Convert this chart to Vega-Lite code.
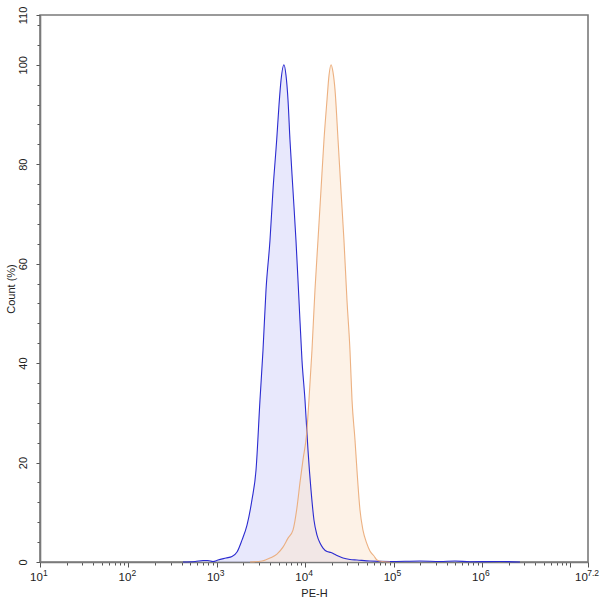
{
  "$schema": "https://vega.github.io/schema/vega-lite/v6.json",
  "width": 548,
  "height": 547,
  "autosize": {"type": "none"},
  "padding": {"left": 40, "top": 15, "right": 12, "bottom": 40},
  "background": "white",
  "config": {
    "view": {"stroke": "#7a7a7a", "strokeWidth": 1.6},
    "font": "Liberation Sans",
    "axis": {"domainColor": "#7a7a7a", "domainWidth": 1.6, "tickColor": "#555555", "labelColor": "#222222", "titleColor": "#222222", "labelFontSize": 11, "titleFontSize": 11, "titleFontWeight": "normal", "grid": false}
  },
  "data": {"values": [
    {"series": "A", "pe": 415, "count": 0},
    {"series": "A", "pe": 568, "count": 0.1},
    {"series": "A", "pe": 698, "count": 0.3},
    {"series": "A", "pe": 794, "count": 0.3},
    {"series": "A", "pe": 906, "count": 0.1},
    {"series": "A", "pe": 1033, "count": 0.4},
    {"series": "A", "pe": 1271, "count": 0.8},
    {"series": "A", "pe": 1486, "count": 1.1},
    {"series": "A", "pe": 1694, "count": 2.0},
    {"series": "A", "pe": 1928, "count": 4.4},
    {"series": "A", "pe": 2198, "count": 7.4},
    {"series": "A", "pe": 2500, "count": 12.5},
    {"series": "A", "pe": 2780, "count": 18.5},
    {"series": "A", "pe": 3083, "count": 32.6},
    {"series": "A", "pe": 3334, "count": 42.6},
    {"series": "A", "pe": 3606, "count": 54.7},
    {"series": "A", "pe": 4000, "count": 64.7},
    {"series": "A", "pe": 4325, "count": 74.8},
    {"series": "A", "pe": 4764, "count": 84.9},
    {"series": "A", "pe": 5058, "count": 91.9},
    {"series": "A", "pe": 5333, "count": 96.9},
    {"series": "A", "pe": 5754, "count": 100},
    {"series": "A", "pe": 6067, "count": 97.9},
    {"series": "A", "pe": 6397, "count": 92.9},
    {"series": "A", "pe": 6730, "count": 84.9},
    {"series": "A", "pe": 7278, "count": 74.8},
    {"series": "A", "pe": 7870, "count": 64.7},
    {"series": "A", "pe": 8511, "count": 52.7},
    {"series": "A", "pe": 9204, "count": 40.6},
    {"series": "A", "pe": 9954, "count": 32.6},
    {"series": "A", "pe": 10765, "count": 22.5},
    {"series": "A", "pe": 11641, "count": 14.5},
    {"series": "A", "pe": 12589, "count": 8.4},
    {"series": "A", "pe": 13614, "count": 5.4},
    {"series": "A", "pe": 14723, "count": 3.8},
    {"series": "A", "pe": 15922, "count": 2.8},
    {"series": "A", "pe": 17660, "count": 2.1},
    {"series": "A", "pe": 19588, "count": 1.9},
    {"series": "A", "pe": 22336, "count": 1.4},
    {"series": "A", "pe": 26792, "count": 0.8},
    {"series": "A", "pe": 32137, "count": 0.5},
    {"series": "A", "pe": 38548, "count": 0.4},
    {"series": "A", "pe": 54075, "count": 0.2},
    {"series": "A", "pe": 91201, "count": 0.1},
    {"series": "A", "pe": 199067, "count": 0.2},
    {"series": "A", "pe": 334965, "count": 0.1},
    {"series": "A", "pe": 495450, "count": 0.2},
    {"series": "A", "pe": 732825, "count": 0.05},
    {"series": "A", "pe": 1599558, "count": 0.1},
    {"series": "A", "pe": 2691535, "count": 0},
    {"series": "B", "pe": 2377, "count": 0},
    {"series": "B", "pe": 3251, "count": 0.2},
    {"series": "B", "pe": 4000, "count": 0.8},
    {"series": "B", "pe": 4797, "count": 1.6},
    {"series": "B", "pe": 5610, "count": 3.0},
    {"series": "B", "pe": 6397, "count": 4.8},
    {"series": "B", "pe": 7278, "count": 6.4},
    {"series": "B", "pe": 8072, "count": 10.9},
    {"series": "B", "pe": 8730, "count": 15.9},
    {"series": "B", "pe": 9441, "count": 20.5},
    {"series": "B", "pe": 10399, "count": 25.9},
    {"series": "B", "pe": 11041, "count": 32.6},
    {"series": "B", "pe": 11940, "count": 42.6},
    {"series": "B", "pe": 12912, "count": 54.7},
    {"series": "B", "pe": 13964, "count": 64.7},
    {"series": "B", "pe": 15101, "count": 74.8},
    {"series": "B", "pe": 16331, "count": 84.9},
    {"series": "B", "pe": 17660, "count": 92.9},
    {"series": "B", "pe": 18621, "count": 97.9},
    {"series": "B", "pe": 19634, "count": 100},
    {"series": "B", "pe": 20654, "count": 98.5},
    {"series": "B", "pe": 21777, "count": 94.9},
    {"series": "B", "pe": 23550, "count": 84.9},
    {"series": "B", "pe": 25410, "count": 74.8},
    {"series": "B", "pe": 27479, "count": 64.7},
    {"series": "B", "pe": 29717, "count": 52.7},
    {"series": "B", "pe": 32137, "count": 42.6},
    {"series": "B", "pe": 33884, "count": 32.6},
    {"series": "B", "pe": 36644, "count": 24.5},
    {"series": "B", "pe": 38548, "count": 18.5},
    {"series": "B", "pe": 41687, "count": 10.5},
    {"series": "B", "pe": 45082, "count": 6.4},
    {"series": "B", "pe": 49659, "count": 3.8},
    {"series": "B", "pe": 54075, "count": 2.2},
    {"series": "B", "pe": 60117, "count": 1.2},
    {"series": "B", "pe": 65013, "count": 0.4},
    {"series": "B", "pe": 73961, "count": 0.1},
    {"series": "B", "pe": 91201, "count": 0},
    {"series": "E", "pe": 10, "count": 0, "exp": "1"},
    {"series": "E", "pe": 100, "count": 0, "exp": "2"},
    {"series": "E", "pe": 1000, "count": 0, "exp": "3"},
    {"series": "E", "pe": 10000, "count": 0, "exp": "4"},
    {"series": "E", "pe": 100000, "count": 0, "exp": "5"},
    {"series": "E", "pe": 1000000, "count": 0, "exp": "6"},
    {"series": "E", "pe": 15848932, "count": 0, "exp": "7.2"}
  ]},
  "encoding": {
    "x": {
      "field": "pe", "type": "quantitative",
      "scale": {"type": "log", "domain": [10, 15848932], "nice": false},
      "axis": {
        "title": "PE-H",
        "titlePadding": 5,
        "values": [10,20,30,40,50,60,70,80,90,100,200,300,400,500,600,700,800,900,1000,2000,3000,4000,5000,6000,7000,8000,9000,10000,20000,30000,40000,50000,60000,70000,80000,90000,100000,200000,300000,400000,500000,600000,700000,800000,900000,1000000,2000000,3000000,4000000,5000000,6000000,7000000,8000000,9000000,10000000,15848932],
        "labelExpr": "(datum.value == 10 || datum.value == 100 || datum.value == 1000 || datum.value == 10000 || datum.value == 100000 || datum.value == 1000000 || datum.value == 15848932) ? '10' : ''",
        "labelFlush": false,
        "labelOverlap": false,
        "labelPadding": 4,
        "labelOffset": {"condition": {"test": "datum.value == 15848932", "value": -7}, "value": -4},
        "labelFontSize": 11.5,
        "tickSize": {"condition": {"test": "datum.value == 10 || datum.value == 100 || datum.value == 1000 || datum.value == 10000 || datum.value == 100000 || datum.value == 1000000 || datum.value == 10000000 || datum.value == 15848932", "value": 5}, "value": 3}
      }
    },
    "y": {
      "field": "count", "type": "quantitative",
      "scale": {"domain": [0, 110], "nice": false},
      "axis": {
        "title": "Count (%)",
        "titlePadding": 1,
        "values": [0,4,8,12,16,20,24,28,32,36,40,44,48,52,56,60,64,68,72,76,80,84,88,92,96,100,104,108,110],
        "labelExpr": "(datum.value % 20 == 0 || datum.value == 110) ? datum.label : ''",
        "labelAngle": -90,
        "labelAlign": "center",
        "labelBaseline": "bottom",
        "labelPadding": 8,
        "labelFlush": false,
        "labelOverlap": false,
        "tickSize": {"condition": {"test": "datum.value % 20 == 0 || datum.value == 110", "value": 4}, "value": 3}
      }
    }
  },
  "layer": [
    {
      "transform": [{"filter": "datum.series == 'A'"}],
      "mark": {"type": "area", "color": "#d8d8fa", "opacity": 0.6, "interpolate": "monotone"}
    },
    {
      "transform": [{"filter": "datum.series == 'B'"}],
      "mark": {"type": "area", "color": "#fbe6cf", "opacity": 0.5, "interpolate": "monotone"}
    },
    {
      "transform": [{"filter": "datum.series == 'A'"}],
      "mark": {"type": "line", "color": "#2b2bd0", "strokeWidth": 1.1, "interpolate": "monotone"}
    },
    {
      "transform": [{"filter": "datum.series == 'B'"}],
      "mark": {"type": "line", "color": "#eaa874", "strokeWidth": 1.1, "opacity": 0.9, "interpolate": "monotone"}
    },
    {
      "transform": [{"filter": "datum.series == 'E'"}],
      "mark": {"type": "text", "align": {"expr": "datum.exp == '7.2' ? 'right' : 'left'"}, "baseline": "top", "dx": {"expr": "datum.exp == '7.2' ? 11 : 3"}, "dy": 7, "fontSize": 8.5, "fill": "#222222", "clip": false},
      "encoding": {
        "text": {"field": "exp", "type": "nominal"}
      }
    }
  ]
}
